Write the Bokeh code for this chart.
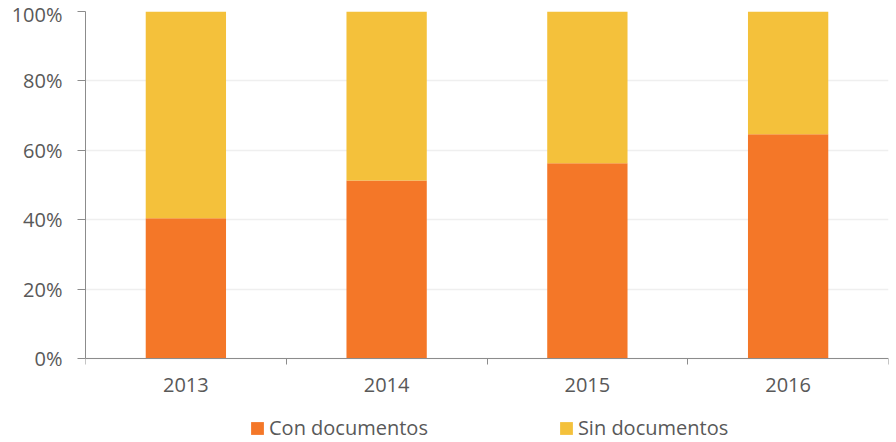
from bokeh.plotting import figure
from bokeh.models import FixedTicker, NumeralTickFormatter, Legend, LegendItem, ColumnDataSource, Range1d
from bokeh.embed import file_html
from bokeh.resources import INLINE

years = ["2013", "2014", "2015", "2016"]
con_documentos = [0.404, 0.513, 0.563, 0.646]
sin_documentos = [0.596, 0.487, 0.437, 0.354]
y_ticks = [0, 0.2, 0.4, 0.6, 0.8, 1.0]
series_names = ["Con documentos", "Sin documentos"]
colors = ["#F47728", "#F4C13B"]

xpos = [i + 0.5 for i in range(len(years))]
src = ColumnDataSource(dict(x=xpos, con=con_documentos, sin=sin_documentos))

FONT = "Open Sans"
TXT = "#595959"
AX = "#8c8c8c"

# frame extends below 0% so the legend can sit inside it; the x axis is pinned at 0
p = figure(width=890, height=442, output_backend="svg", toolbar_location=None,
           x_range=Range1d(0, len(years)), y_range=Range1d(-0.242, 1),
           min_border_left=85, min_border_right=2, min_border_top=11, min_border_bottom=0)
p.outline_line_color = None
p.background_fill_color = "white"

rs = p.vbar_stack(["con", "sin"], x="x", width=0.4, source=src, color=colors, line_color=None)

# y axis
p.yaxis.ticker = FixedTicker(ticks=y_ticks)
p.yaxis.bounds = (0, 1)
p.yaxis.formatter = NumeralTickFormatter(format="0%")
p.yaxis.major_tick_out = 8
p.yaxis.major_tick_in = 0
p.yaxis.minor_tick_line_color = None
p.yaxis.axis_line_color = AX
p.yaxis.major_tick_line_color = AX
p.yaxis.major_label_text_font = FONT
p.yaxis.major_label_text_font_size = "20px"
p.yaxis.major_label_text_color = TXT
p.yaxis.major_label_standoff = 15

# x axis
p.xaxis.fixed_location = 0
p.xaxis.ticker = FixedTicker(ticks=xpos, minor_ticks=list(range(len(years) + 1)))
p.xaxis.major_label_overrides = {x: y for x, y in zip(xpos, years)}
p.xaxis.major_tick_out = 0
p.xaxis.major_tick_in = 0
p.xaxis.minor_tick_out = 6
p.xaxis.minor_tick_in = 0
p.xaxis.minor_tick_line_color = AX
p.xaxis.axis_line_color = AX
p.xaxis.major_label_text_font = FONT
p.xaxis.major_label_text_font_size = "20px"
p.xaxis.major_label_text_color = TXT
p.xaxis.major_label_standoff = 13

p.xgrid.grid_line_color = None
p.ygrid.ticker = FixedTicker(ticks=y_ticks)
p.ygrid.grid_line_color = "#efefef"
p.ygrid.grid_line_width = 1.5

legend = Legend(items=[LegendItem(label=n, renderers=[r]) for n, r in zip(series_names, rs)],
                orientation="horizontal", location=(164, 1),
                glyph_width=16, glyph_height=16, label_standoff=4, spacing=130,
                padding=0, margin=0, border_line_color=None, background_fill_alpha=0,
                label_text_font=FONT, label_text_font_size="20px", label_text_color=TXT)
p.add_layout(legend, "center")

open("out.html", "w").write(file_html(p, INLINE))
